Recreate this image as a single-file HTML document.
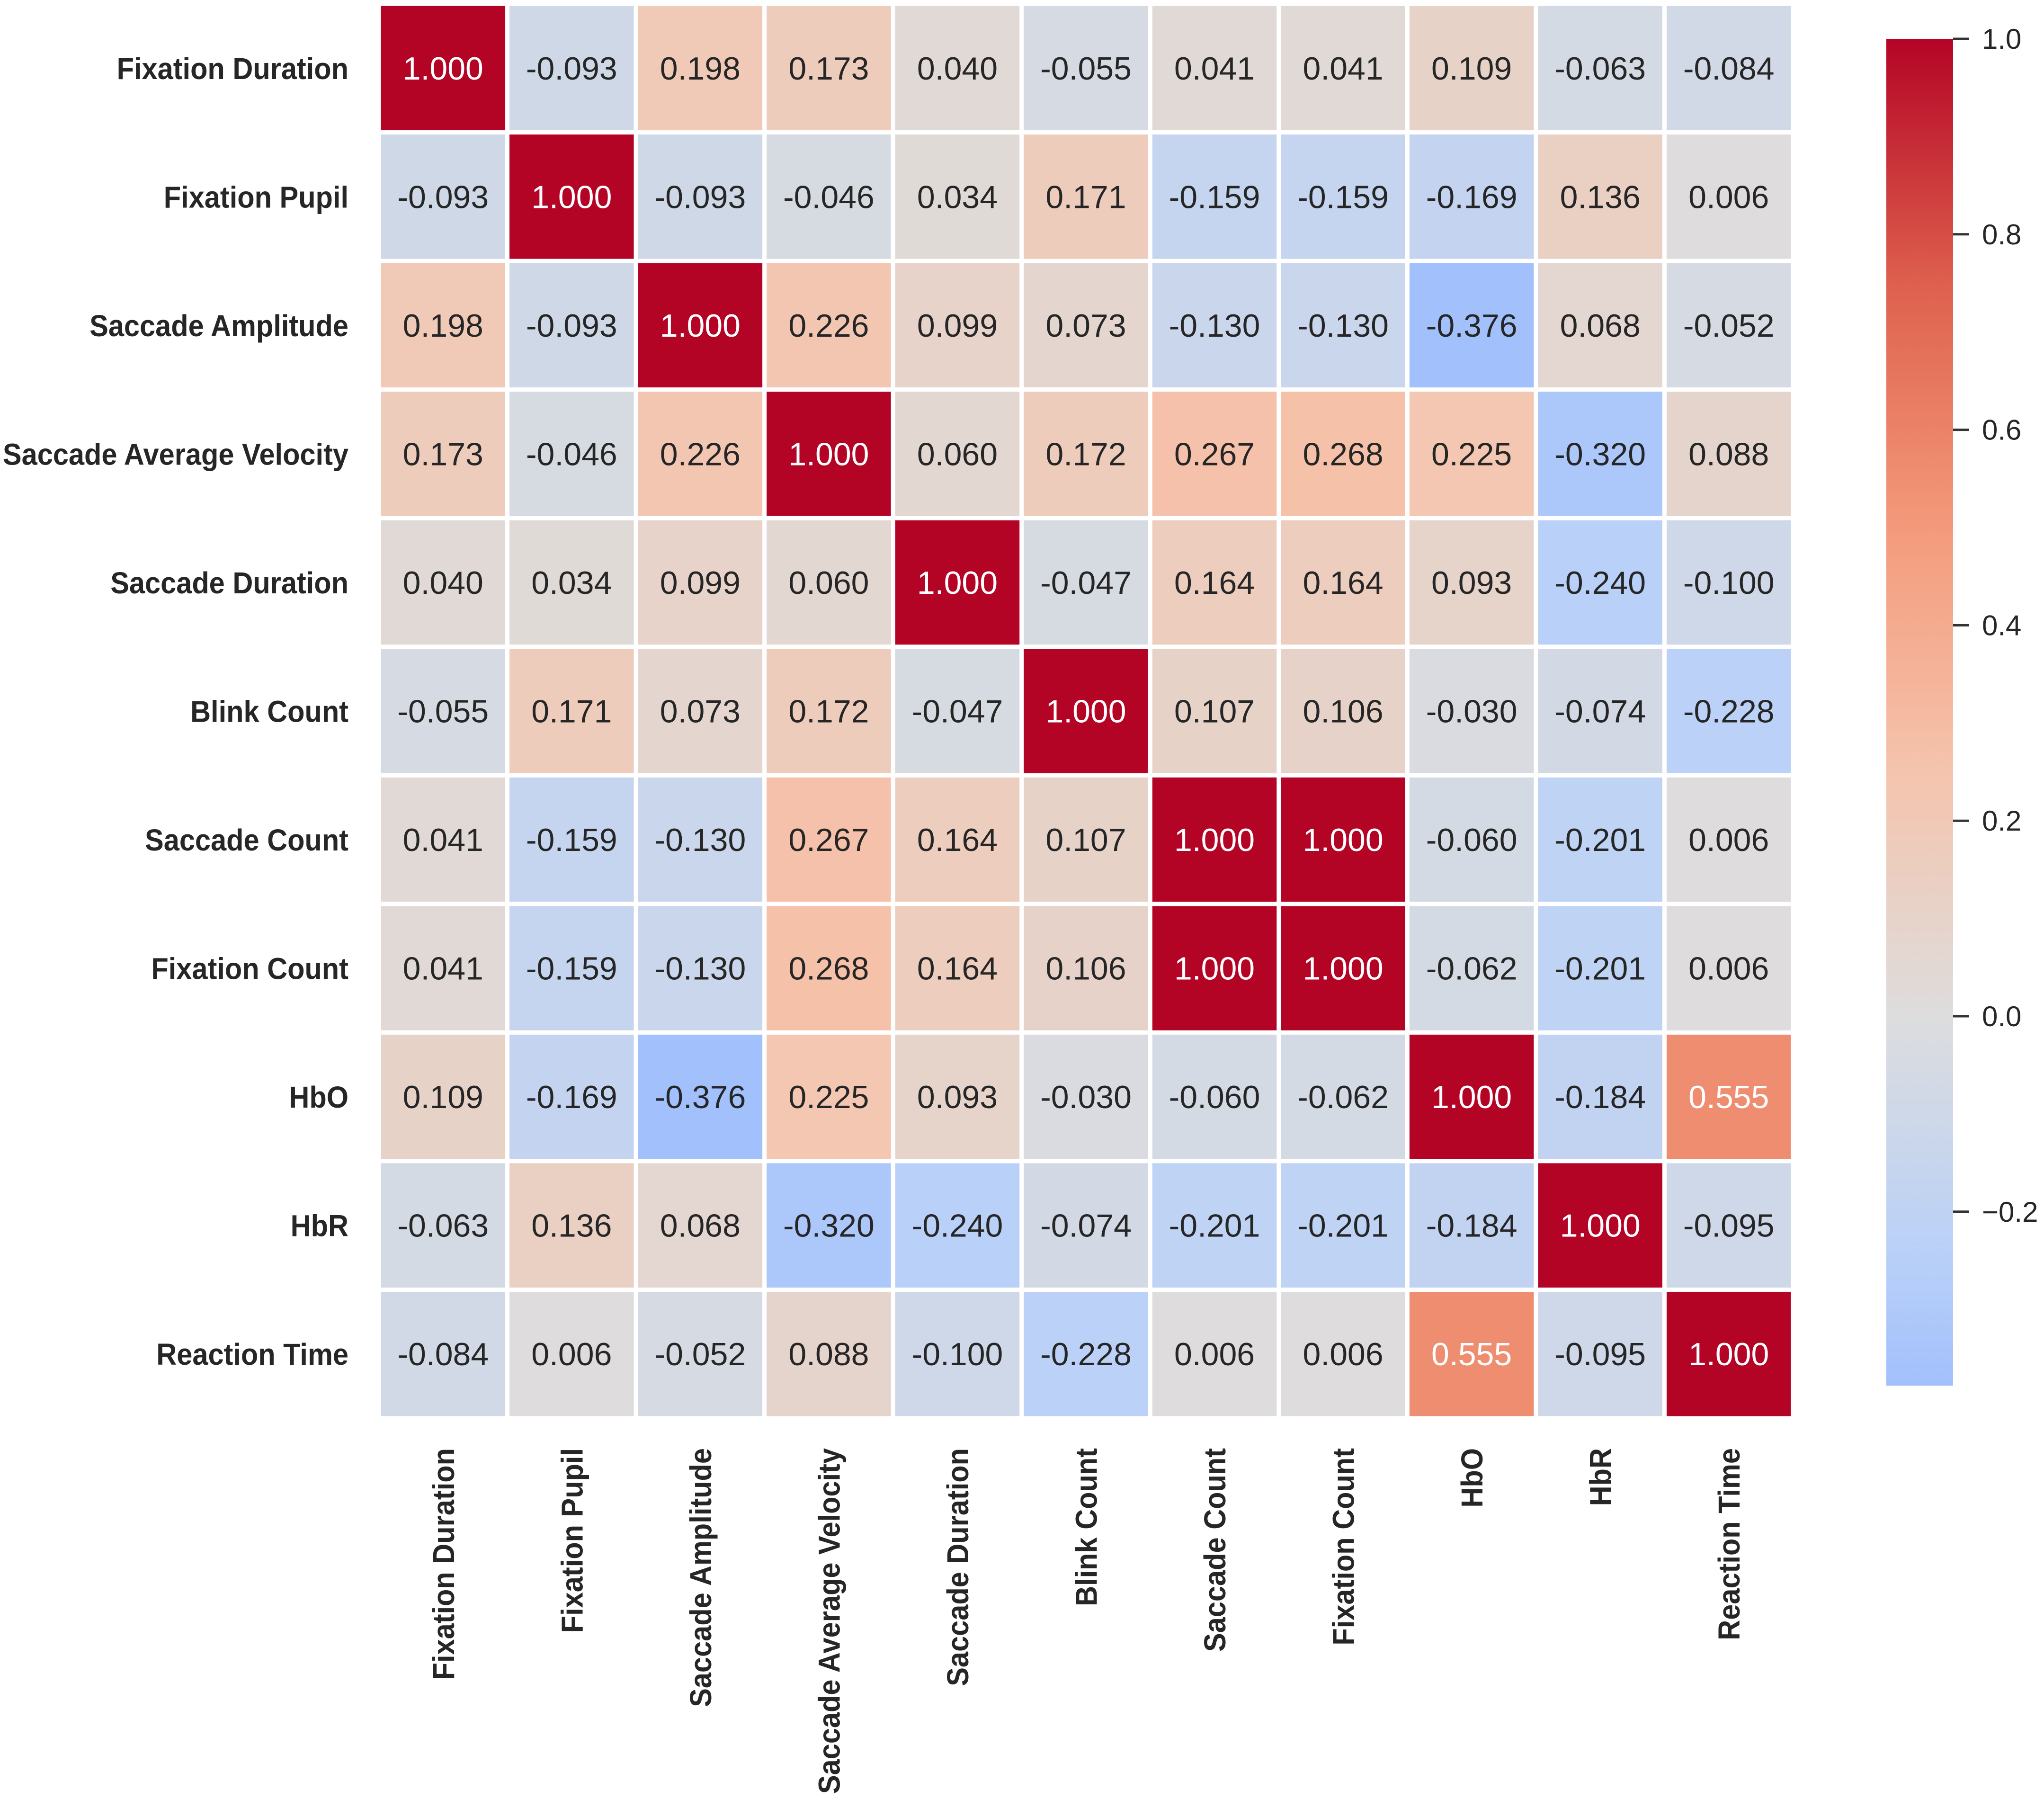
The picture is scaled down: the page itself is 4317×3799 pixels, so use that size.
<!DOCTYPE html>
<html><head><meta charset="utf-8"><style>
html,body{margin:0;padding:0;background:#fff;}
svg{display:block;}
text{font-family:"Liberation Sans",Arial,sans-serif;}
</style></head><body>
<svg id="chart" width="4317" height="3799" viewBox="0 0 4317 3799" xmlns="http://www.w3.org/2000/svg">
<defs><linearGradient id="cbgrad" x1="0" y1="0" x2="0" y2="1"></linearGradient></defs>
<g id="cells"></g>
<g id="rowlabels"></g>
<g id="collabels"></g>
<g id="colorbar"></g>
</svg>
<script>
const labels = ["Fixation Duration","Fixation Pupil","Saccade Amplitude","Saccade Average Velocity","Saccade Duration","Blink Count","Saccade Count","Fixation Count","HbO","HbR","Reaction Time"];
const row0 = [1.000,-0.093,0.198,0.173,0.040,-0.055,0.041,0.041,0.109,-0.063,-0.084];
const row1 = [-0.093,1.000,-0.093,-0.046,0.034,0.171,-0.159,-0.159,-0.169,0.136,0.006];
const row2 = [0.198,-0.093,1.000,0.226,0.099,0.073,-0.130,-0.130,-0.376,0.068,-0.052];
const row3 = [0.173,-0.046,0.226,1.000,0.060,0.172,0.267,0.268,0.225,-0.320,0.088];
const row4 = [0.040,0.034,0.099,0.060,1.000,-0.047,0.164,0.164,0.093,-0.240,-0.100];
const row5 = [-0.055,0.171,0.073,0.172,-0.047,1.000,0.107,0.106,-0.030,-0.074,-0.228];
const row6 = [0.041,-0.159,-0.130,0.267,0.164,0.107,1.000,1.000,-0.060,-0.201,0.006];
const row7 = [0.041,-0.159,-0.130,0.268,0.164,0.106,1.000,1.000,-0.062,-0.201,0.006];
const row8 = [0.109,-0.169,-0.376,0.225,0.093,-0.030,-0.060,-0.062,1.000,-0.184,0.555];
const row9 = [-0.063,0.136,0.068,-0.320,-0.240,-0.074,-0.201,-0.201,-0.184,1.000,-0.095];
const row10 = [-0.084,0.006,-0.052,0.088,-0.100,-0.228,0.006,0.006,0.555,-0.095,1.000];
const matrix = [row0,row1,row2,row3,row4,row5,row6,row7,row8,row9,row10];
const cbTicks = [1.0,0.8,0.6,0.4,0.2,0.0,-0.2];
const cbTickLabels = ["1.0","0.8","0.6","0.4","0.2","0.0","\u22120.2"];
const cbMin = -0.378, cbMax = 1.0;

const NS="http://www.w3.org/2000/svg";
const X0=800, Y0=8, W=2987, n=labels.length, cell=W/n, gap=9;
const xPos = i => X0 + i*cell;
const yPos = i => Y0 + i*cell;
const CB_X=3984, CB_W=141, CB_TOP=82, CB_PER=412.8/0.2;
const cbY = v => CB_TOP + (cbMax - v)*CB_PER;
const SQUEEZE = 0.93;

const cw=[[0,59,76,192],[0.125,98,130,234],[0.25,141,176,254],[0.375,184,208,249],[0.5,221,221,221],[0.625,245,196,173],[0.75,244,154,123],[0.875,222,96,77],[1,180,4,38]];
function color(v){
  let t=Math.max(0,Math.min(1,(v+1)/2));
  for(let k=0;k<cw.length-1;k++){
    const a=cw[k],b=cw[k+1];
    if(t<=b[0]){const f=(t-a[0])/(b[0]-a[0]);
      return `rgb(${Math.round(a[1]+f*(b[1]-a[1]))},${Math.round(a[2]+f*(b[2]-a[2]))},${Math.round(a[3]+f*(b[3]-a[3]))})`;}
  }
  return "rgb(180,4,38)";
}
function mk(tag,attrs,parent){const e=document.createElementNS(NS,tag);for(const k in attrs)e.setAttribute(k,attrs[k]);parent.appendChild(e);return e;}
function squeeze(t){const w=t.getComputedTextLength();t.setAttribute('textLength',w*SQUEEZE);t.setAttribute('lengthAdjust','spacingAndGlyphs');}

const gc=document.getElementById('cells');
for(let r=0;r<n;r++){for(let c=0;c<n;c++){
  const v=matrix[r][c];
  const rect=mk('rect',{x:xPos(c)+gap/2,y:yPos(r)+gap/2,width:cell-gap,height:cell-gap,fill:color(v)},gc);
  
  
  const t=mk('text',{x:xPos(c)+cell/2,y:yPos(r)+cell/2+24,'text-anchor':'middle','font-size':68,fill:v>0.5?'#ffffff':'#262626'},gc);
  t.textContent=v.toFixed(3);
  
  
}}
const gr=document.getElementById('rowlabels');
const gcl=document.getElementById('collabels');
for(let i=0;i<n;i++){
  const t=mk('text',{x:736,y:yPos(i)+cell/2+23,'text-anchor':'end','font-size':64,'font-weight':'bold',fill:'#262626'},gr);
  t.textContent=labels[i];
  
  
  squeeze(t);
  const cx=xPos(i)+cell/2+23;
  const t2=mk('text',{x:cx,y:3058,'text-anchor':'end','font-size':64,'font-weight':'bold',fill:'#262626',transform:`rotate(-90 ${cx} 3058)`},gcl);
  t2.textContent=labels[i];
  
  
  squeeze(t2);
}
const grad=document.getElementById('cbgrad');
for(let s=0;s<=40;s++){const v=cbMax-(cbMax-cbMin)*s/40;mk('stop',{offset:(s/40),'stop-color':color(v)},grad);}
const gcb=document.getElementById('colorbar');
const bar=mk('rect',{x:CB_X,y:cbY(cbMax),width:CB_W,height:cbY(cbMin)-cbY(cbMax),fill:'url(#cbgrad)'},gcb);


cbTicks.forEach((v,i)=>{
  const y=cbY(v);
  const l=mk('line',{x1:CB_X+CB_W,x2:CB_X+CB_W+34,y1:y,y2:y,stroke:'#333',"stroke-width":5},gcb);
  
  
  const t=mk('text',{x:4186,y:y+21,'font-size':60,fill:'#262626'},gcb);
  t.textContent=cbTickLabels[i];
  
  
});
</script>
</body></html>
